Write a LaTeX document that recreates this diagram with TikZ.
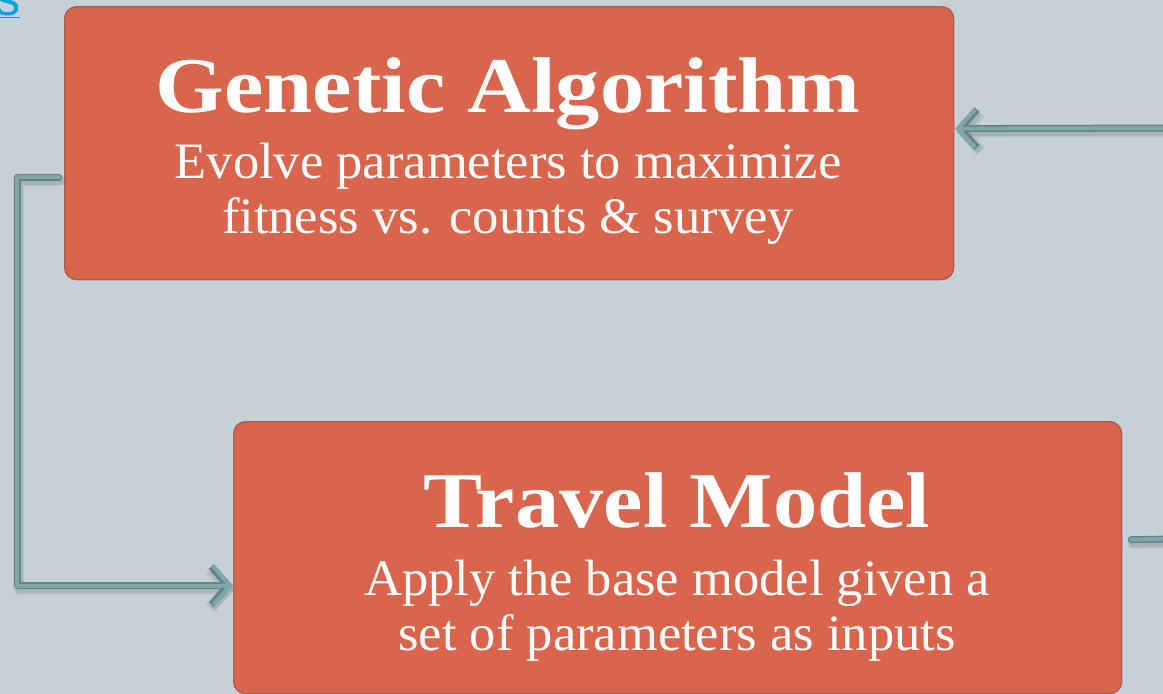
\documentclass[tikz,border=0pt]{standalone}
\usepackage{fontspec}
\setmainfont{Liberation Serif}
\newfontfamily\headfont[FakeStretch=1.12]{Liberation Serif}
\newfontfamily\bodyfont[FakeStretch=1.03]{Liberation Serif}
\newfontfamily\linkfont{Liberation Sans}
\usetikzlibrary{arrows.meta,calc}

\definecolor{bg}{RGB}{197,209,215}
\definecolor{boxfill}{RGB}{218,101,77}
\definecolor{boxedge}{RGB}{168,92,78}
\definecolor{pipefill}{RGB}{128,167,168}
\definecolor{pipeedge}{RGB}{98,134,136}
\definecolor{linkblue}{RGB}{0,160,226}

% a connector: soft shadow, dark outline, light core
\newcommand\pipe[2]{%
  \draw[pipeshadow,line width=11pt,opacity=0.10,#1] #2;
  \draw[pipeshadow,line width=8pt,opacity=0.14,#1] #2;
  \draw[pipebase,pipeedge,line width=7pt,#1] #2;
  \draw[pipebase,pipefill,line width=4pt,#1] #2;
}

\begin{document}
\begin{tikzpicture}[x=1pt,y=-1pt,
  stepbox/.style={draw=boxedge,line width=1.3pt,fill=boxfill,rounded corners=12pt,
    inner sep=0pt,anchor=north west},
  title/.style={text=white,font=\headfont\bfseries\fontsize{79}{79}\selectfont,anchor=base,inner sep=0pt},
  subline/.style={text=white,font=\bodyfont\fontsize{51}{55}\selectfont,anchor=base,inner sep=0pt},
  pipebase/.style={line cap=round,line join=round},
  pipeshadow/.style={pipebase,draw=black!70,transform canvas={xshift=1.5pt,yshift=-3.5pt}},
  tip/.style={-{Straight Barb[length=17pt,width=38pt]}},
]
\fill[bg] (0,0) rectangle (1163,694);
\useasboundingbox (0,0) rectangle (1163,694);
\clip (0,0) rectangle (1163,694);

% hyperlink fragment at the top left
\node[anchor=base west,inner sep=0pt,text=linkblue,font=\linkfont\fontsize{50}{50}\selectfont]
  (link) at (-5,15) {\underline{s}};

% boxes
\node[stepbox,minimum width=889pt,minimum height=273pt] (ga) at (64,6) {};
\node[stepbox,minimum width=888pt,minimum height=272pt] (tm) at (233,421) {};

% box texts
\node[title] (gat) at (508,112) {Genetic Algorithm};
\node[subline] (gas1) at (508,178) {Evolve parameters to maximize};
\node[subline] (gas2) at (508,233) {fitness vs. counts \& survey};

\node[title] (tmt) at (677,527) {Travel Model};
\node[subline] (tms1) at (677,595) {Apply the base model given a};
\node[subline] (tms2) at (677,650) {set of parameters as inputs};

% connector ends
\coordinate (gaout) at ([xshift=-5pt,yshift=-34pt]ga.west);
\coordinate (tmin) at ([yshift=-28pt]tm.west);
\coordinate (gain) at ([xshift=1pt,yshift=14.5pt]ga.east);
\coordinate (rightin) at (1175,128);
\coordinate (tmout) at ([xshift=9pt,yshift=18pt]tm.east);
\coordinate (rightout) at (1175,539);

\pipe{tip}{(gaout) -- (gaout -| 17,0) |- (tmin)}
\pipe{tip}{(rightin) -- (gain)}
\pipe{}{(tmout) -- (rightout)}
\end{tikzpicture}
\end{document}
